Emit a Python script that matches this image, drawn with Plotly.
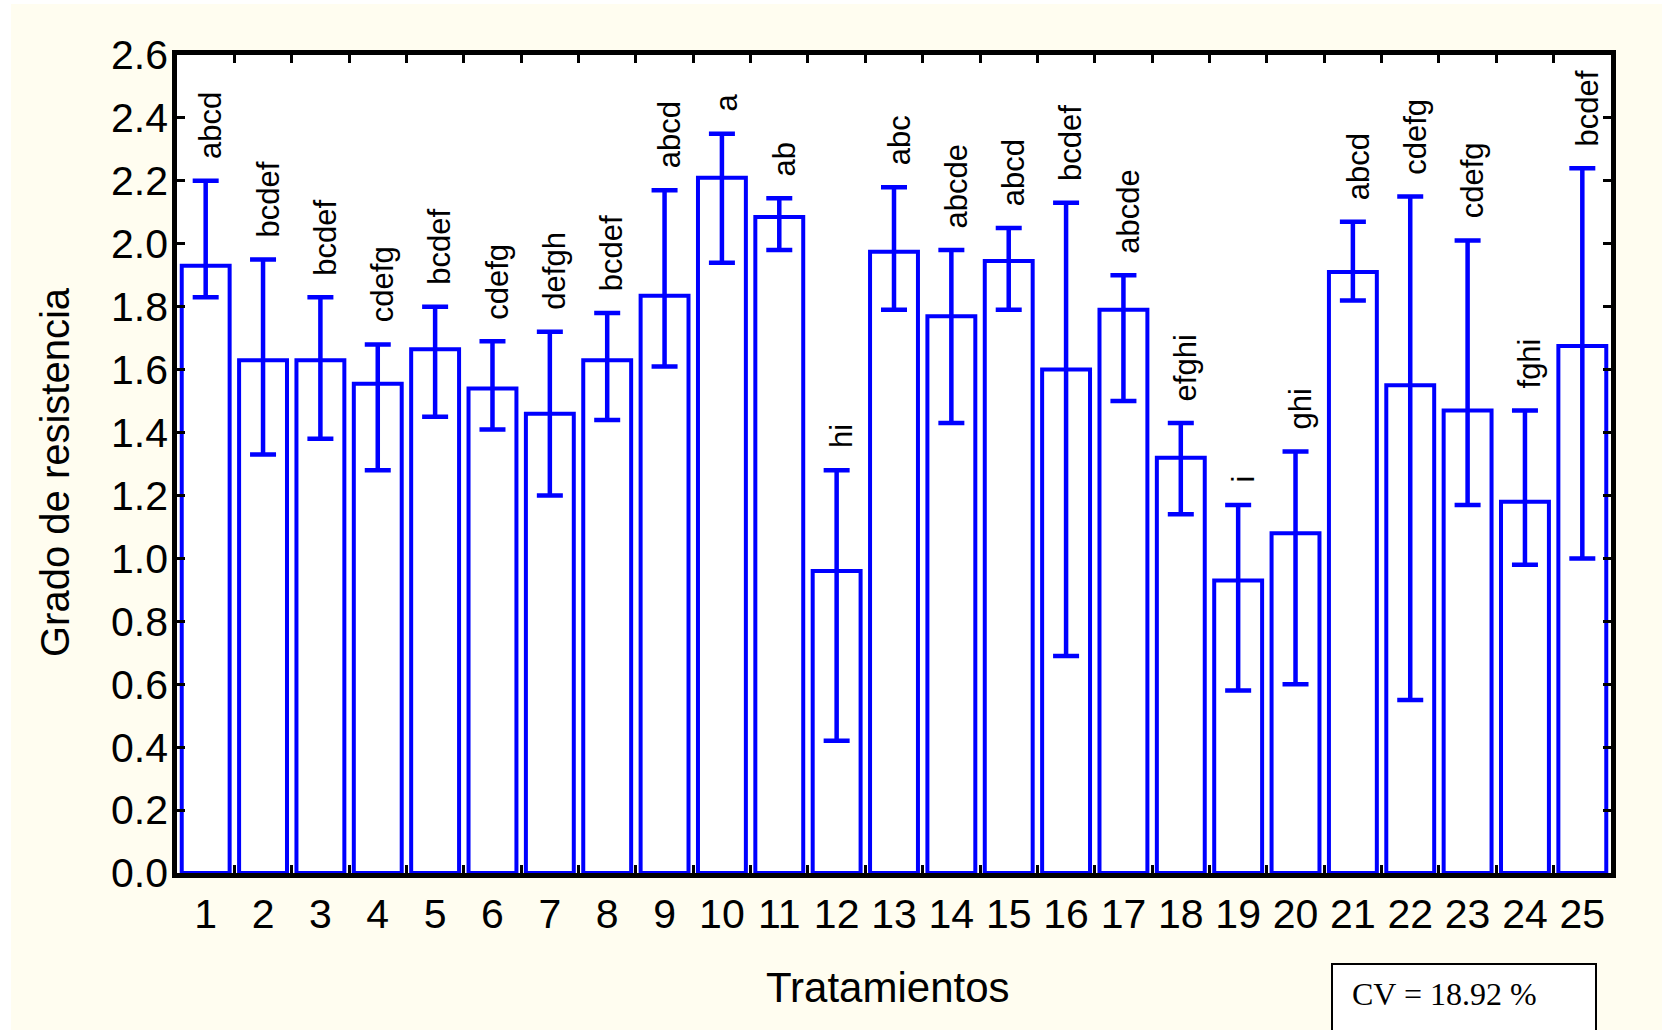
import plotly.graph_objects as go

# Treatment means with their interval limits and mean-separation letters
treatments = ["1", "2", "3", "4", "5", "6", "7", "8", "9", "10", "11", "12", "13",
              "14", "15", "16", "17", "18", "19", "20", "21", "22", "23", "24", "25"]
means = [1.93, 1.63, 1.63, 1.555, 1.665, 1.54, 1.46, 1.63, 1.835, 2.21, 2.085, 0.96, 1.975,
         1.77, 1.945, 1.60, 1.79, 1.32, 0.93, 1.08, 1.91, 1.55, 1.47, 1.18, 1.675]
upper = [2.20, 1.95, 1.83, 1.68, 1.80, 1.69, 1.72, 1.78, 2.17, 2.35, 2.145, 1.28, 2.18,
         1.98, 2.05, 2.13, 1.90, 1.43, 1.17, 1.34, 2.07, 2.15, 2.01, 1.47, 2.24]
lower = [1.83, 1.33, 1.38, 1.28, 1.45, 1.41, 1.20, 1.44, 1.61, 1.94, 1.98, 0.42, 1.79,
         1.43, 1.79, 0.69, 1.50, 1.14, 0.58, 0.60, 1.82, 0.55, 1.17, 0.98, 1.00]
letters = ["abcd", "bcdef", "bcdef", "cdefg", "bcdef", "cdefg", "defgh", "bcdef", "abcd",
           "a", "ab", "hi", "abc", "abcde", "abcd", "bcdef", "abcde", "efghi", "i", "ghi",
           "abcd", "cdefg", "cdefg", "fghi", "bcdef"]
y_ticks = [0.0, 0.2, 0.4, 0.6, 0.8, 1.0, 1.2, 1.4, 1.6, 1.8, 2.0, 2.2, 2.4, 2.6]
cv_text = "CV = 18.92 %"

BLUE = "#0000FF"
CREAM = "#FFFDF0"
SANS = "Liberation Sans, Arial, sans-serif"
SERIF = "Liberation Serif, Times New Roman, serif"

W, H = 1662, 1030
L, R, T, B = 177, 51, 55, 157
PW, PH = W - L - R, H - T - B


def px_x(px):
    return (px - L) / PW


def px_y(py):
    return (H - B - py) / PH


err_plus = [u - m for u, m in zip(upper, means)]
err_minus = [m - lo for m, lo in zip(means, lower)]

fig = go.Figure(
    go.Bar(
        x=treatments,
        y=means,
        marker=dict(color="white", line=dict(color=BLUE, width=4)),
        error_y=dict(type="data", symmetric=False, array=err_plus, arrayminus=err_minus,
                     color=BLUE, thickness=4.5, width=13),
        showlegend=False,
    )
)

annotations = []
# letters sit above each interval; x is the category index on the category axis
for i, (u, lab) in enumerate(zip(upper, letters)):
    annotations.append(dict(
        x=i, y=u, xref="x", yref="y", text=lab, showarrow=False, textangle=-90,
        xanchor="center", yanchor="bottom", xshift=5, yshift=20,
        font=dict(family=SANS, size=31, color="black"),
    ))

# axis titles
annotations.append(dict(
    x=px_x(55), y=px_y(472), xref="paper", yref="paper", text="Grado de resistencia",
    showarrow=False, textangle=-90, xanchor="center", yanchor="middle",
    font=dict(family=SANS, size=40, color="black"),
))
annotations.append(dict(
    x=px_x(888), y=px_y(987), xref="paper", yref="paper", text="Tratamientos",
    showarrow=False, xanchor="center", yanchor="middle",
    font=dict(family=SANS, size=42, color="black"),
))
# coefficient of variation note
annotations.append(dict(
    x=px_x(1350), y=px_y(994), xref="paper", yref="paper", text=cv_text,
    showarrow=False, xanchor="left", yanchor="middle",
    font=dict(family=SERIF, size=32, color="black"),
))

shapes = [
    # white page edges around the cream canvas
    dict(type="rect", xref="paper", yref="paper", x0=px_x(-5), x1=px_x(11),
         y0=px_y(H + 5), y1=px_y(-5), fillcolor="white", line=dict(width=0), layer="below"),
    dict(type="rect", xref="paper", yref="paper", x0=px_x(-5), x1=px_x(W + 5),
         y0=px_y(4), y1=px_y(-5), fillcolor="white", line=dict(width=0), layer="below"),
    # CV box
    dict(type="rect", xref="paper", yref="paper", x0=px_x(1332), x1=px_x(1596),
         y0=px_y(1060), y1=px_y(964), fillcolor="white",
         line=dict(color="black", width=2), layer="below"),
]

fig.update_layout(
    width=W, height=H,
    margin=dict(l=L, r=R, t=T, b=B, pad=0),
    paper_bgcolor=CREAM,
    plot_bgcolor="white",
    bargap=0.165,
    annotations=annotations,
    shapes=shapes,
    font=dict(family=SANS, color="black"),
)

fig.update_xaxes(
    type="category", range=[-0.5, len(treatments) - 0.5],
    showline=True, linecolor="black", linewidth=4.5, mirror="ticks",
    ticks="inside", tickson="boundaries", ticklen=8, tickwidth=3, tickcolor="black",
    tickfont=dict(family=SANS, size=41, color="black"),
    ticklabelstandoff=1,
    showgrid=False, zeroline=False,
)
fig.update_yaxes(
    range=[0, 2.6], tickvals=y_ticks, tickformat=".1f",
    showline=True, linecolor="black", linewidth=4.5, mirror="ticks",
    ticks="inside", ticklen=8, tickwidth=3, tickcolor="black",
    tickfont=dict(family=SANS, size=41, color="black"),
    ticklabelstandoff=-4,
    showgrid=False, zeroline=False,
)

fig.write_html("out.html")
